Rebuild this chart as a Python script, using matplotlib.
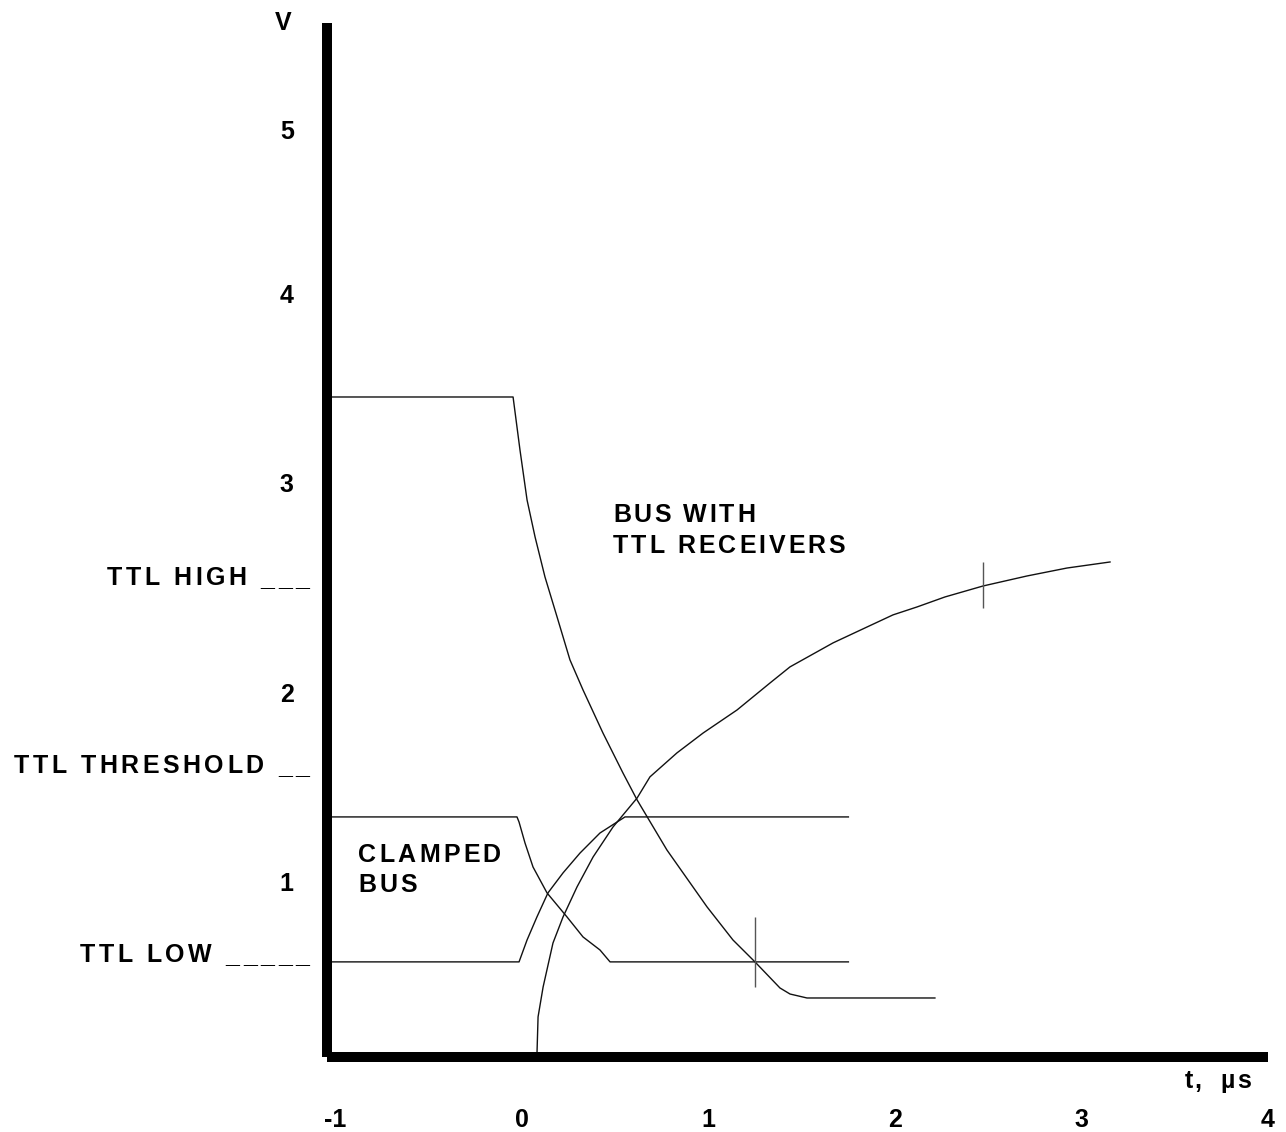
import matplotlib
matplotlib.use("Agg")
import matplotlib.pyplot as plt
import matplotlib.transforms as mtransforms
from matplotlib.font_manager import FontProperties, findfont, get_font

FONT = "Liberation Sans"
plt.rcParams["font.family"] = [FONT, "DejaVu Sans"]
plt.rcParams["font.weight"] = "bold"

# time in us, voltage in V
bus_fall_t = [-1.03, -0.048, -0.011, 0.027, 0.070, 0.123, 0.188, 0.257, 0.327,
              0.434, 0.541, 0.617, 0.777, 0.992, 1.131, 1.249, 1.383, 1.437,
              1.528, 1.582, 2.214]
bus_fall_v = [3.566, 3.566, 3.286, 3.021, 2.825, 2.614, 2.402, 2.175, 2.016,
              1.788, 1.577, 1.434, 1.169, 0.868, 0.693, 0.577, 0.439, 0.407,
              0.386, 0.386, 0.386]

bus_rise_t = [0.080, 0.086, 0.113, 0.166, 0.220, 0.295, 0.381, 0.488, 0.617,
              0.686, 0.831, 0.971, 1.153, 1.330, 1.437, 1.668, 1.850, 1.989,
              2.118, 2.268, 2.472, 2.708, 2.922, 3.153]
bus_rise_v = [0.085, 0.286, 0.444, 0.677, 0.815, 0.974, 1.132, 1.291, 1.444,
              1.556, 1.683, 1.788, 1.910, 2.053, 2.138, 2.265, 2.349, 2.413,
              2.455, 2.508, 2.566, 2.619, 2.661, 2.693]

clamp_fall_t = [-1.03, -0.027, -0.016, 0.016, 0.059, 0.134, 0.241, 0.327,
                0.418, 0.472, 0.483, 1.75]
clamp_fall_v = [1.344, 1.344, 1.317, 1.206, 1.079, 0.942, 0.815, 0.709,
                0.640, 0.577, 0.577, 0.577]

clamp_rise_t = [-1.03, -0.016, 0.027, 0.080, 0.139, 0.220, 0.311, 0.418,
                0.552, 1.75]
clamp_rise_v = [0.577, 0.577, 0.693, 0.815, 0.942, 1.048, 1.153, 1.259,
                1.344, 1.344]

# crossing marks
mark_t = [1.249, 2.472]
mark_lo = [0.444, 2.450]
mark_hi = [0.815, 2.693]

# TTL levels as labelled on the left
ttl_labels = ["TTL HIGH ___", "TTL THRESHOLD __", "TTL LOW _____"]
ttl_levels = [2.571, 1.577, 0.577]

x_ticks = [-1, 0, 1, 2, 3, 4]
x_ticklabels = ["-1", "0", "1", "2", "3", "4"]
# y labels sit where the original drawing put them
y_ticks = [1.0, 2.0, 3.116, 4.116, 4.979]
y_ticklabels = ["1", "2", "3", "4", "5"]


def spaced_text(ax, x, y, s, size=18, track=2.3, ha="left"):
    # matplotlib has no letter spacing, so place the characters one by one
    prop = FontProperties(family=FONT, weight="bold", size=size)
    font = get_font(findfont(prop))
    font.set_size(size, 72)
    adv = [font.load_char(ord(c)).linearHoriAdvance / 65536 + track for c in s]
    total = sum(adv) - track
    x0 = {"left": 0.0, "center": -total / 2, "right": -total}[ha]
    for c, a in zip(s, adv):
        if c != " ":
            tr = mtransforms.offset_copy(ax.transData, fig=ax.figure,
                                         x=x0, y=0, units="points")
            ax.text(x, y, c, transform=tr, fontproperties=prop,
                    ha="left", va="baseline", clip_on=False)
        x0 += a


fig = plt.figure(figsize=(12.86, 11.32), dpi=100)
ax = fig.add_axes([0.2543, 0.0663, 0.7317, 0.9134])
ax.set_xlim(-1.0456, 4.0)
ax.set_ylim(0.074, 5.545)

ax.plot(bus_fall_t, bus_fall_v, color="#111111", lw=1.0)
ax.plot(bus_rise_t, bus_rise_v, color="#111111", lw=1.0)
ax.plot(clamp_fall_t, clamp_fall_v, color="#111111", lw=1.0)
ax.plot(clamp_rise_t, clamp_rise_v, color="#111111", lw=1.0)
ax.vlines(mark_t, mark_lo, mark_hi, color="#555555", lw=1.0)

for sp in ["top", "right"]:
    ax.spines[sp].set_visible(False)
for sp in ["left", "bottom"]:
    ax.spines[sp].set_linewidth(7.2)
    ax.spines[sp].set_capstyle("butt")

ax.set_xticks(x_ticks)
ax.set_xticklabels(x_ticklabels)
ax.set_yticks(y_ticks)
ax.set_yticklabels(y_ticklabels)
ax.tick_params(axis="x", length=0, pad=36.5, labelsize=18)
ax.tick_params(axis="y", length=0, pad=24, labelsize=18)

for lab, lev in zip(ttl_labels, ttl_levels):
    spaced_text(ax, -1.142, lev, lab, track=2.5, ha="right")

spaced_text(ax, -0.879, 1.106, "CLAMPED")
spaced_text(ax, -0.879, 0.947, "BUS")
spaced_text(ax, 0.488, 2.905, "BUS WITH", track=1.9)
spaced_text(ax, 0.488, 2.741, "TTL RECEIVERS", track=2.1)
spaced_text(ax, -1.282, 5.508, "V", ha="center")
spaced_text(ax, 3.555, -0.090, "t,", track=0.8)
spaced_text(ax, 3.743, -0.090, "µs", track=2.0)

fig.savefig("out.png", dpi=100)
